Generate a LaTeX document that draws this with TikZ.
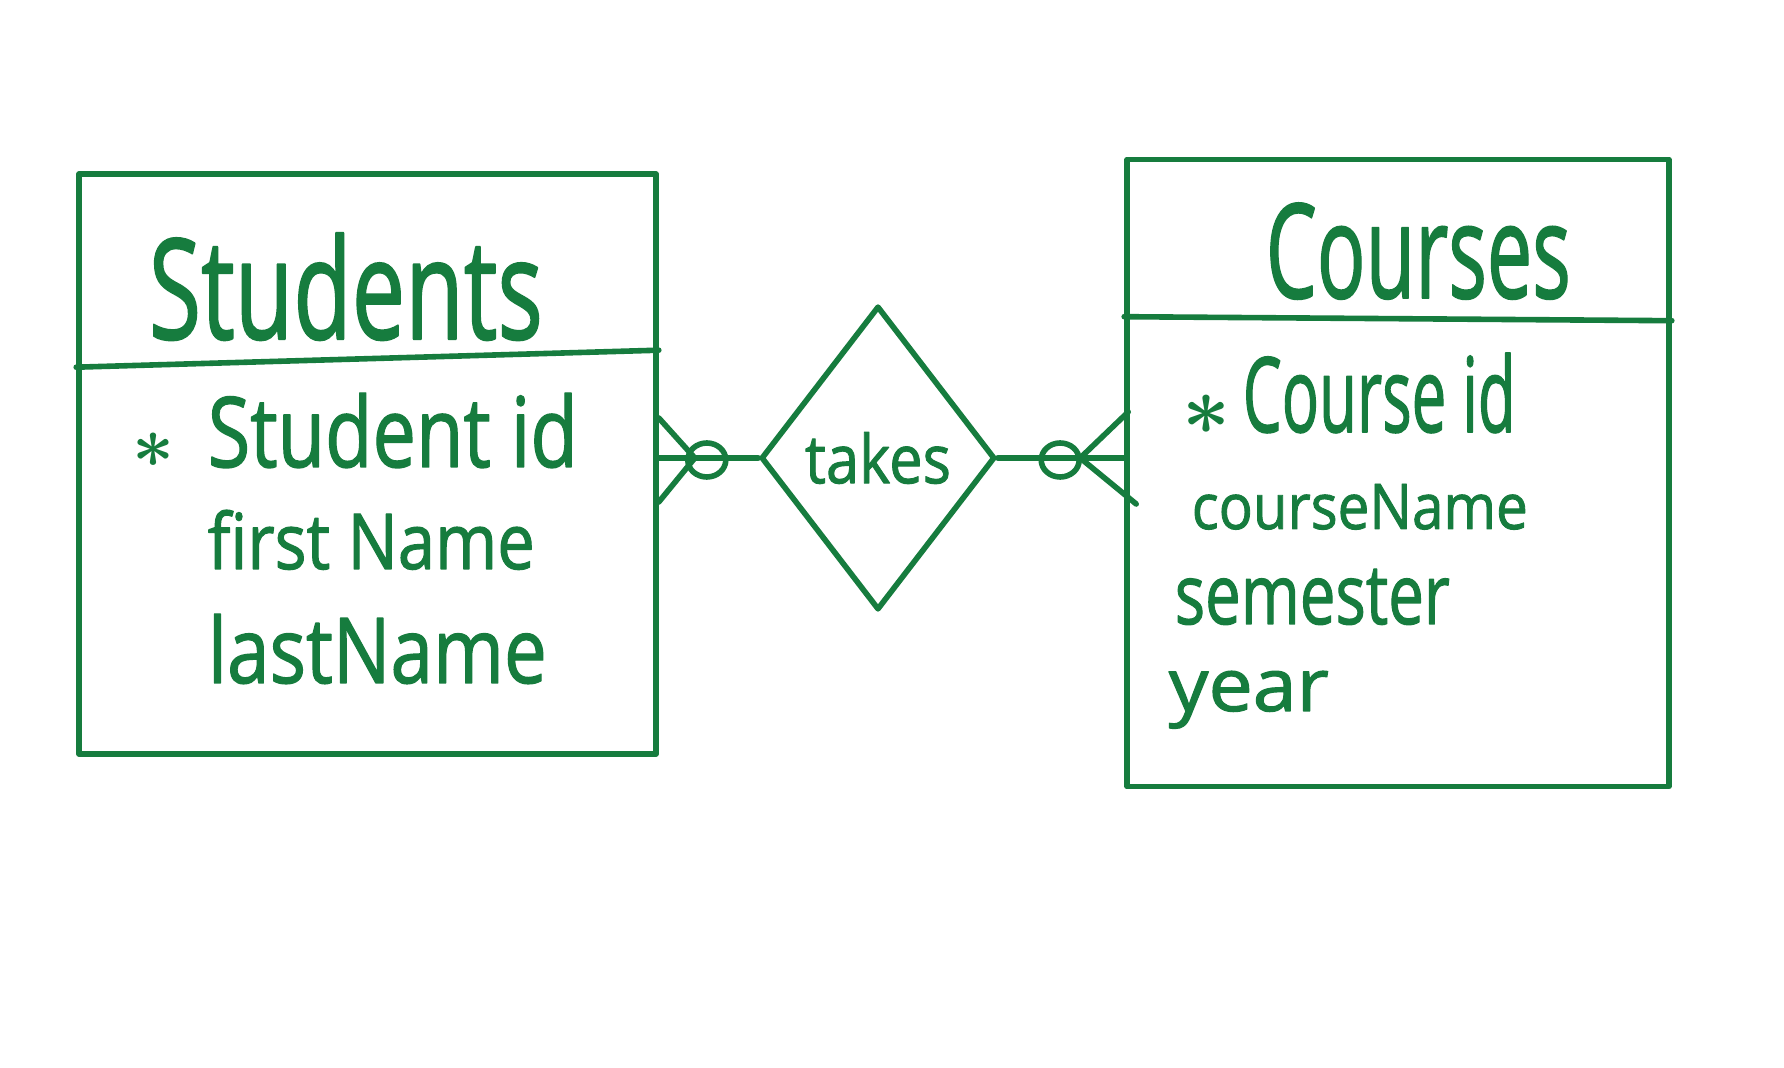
\documentclass[tikz,border=0pt]{standalone}
\usepackage{fontspec}
\usepackage{graphicx}
\setmainfont{Open Sans}
\newfontfamily\handfont{Open Sans}[FakeBold=1.5]
\usetikzlibrary{shapes.geometric,calc}
\definecolor{ink}{RGB}{22,124,62}
\newcommand{\hw}[3]{\resizebox{#1pt}{#2pt}{\handfont #3}}
\tikzset{
  entity/.style={draw=ink, rectangle, inner sep=0pt},
  relation/.style={draw=ink, diamond, inner sep=0pt, text=ink},
  label/.style={inner sep=0pt, anchor=base west, text=ink},
  star/.style={inner sep=0pt, anchor=center, text=ink},
  ring/.style={draw=ink, ellipse, inner sep=0pt, minimum width=19pt, minimum height=17pt},
}
\begin{document}
\begin{tikzpicture}[x=0.5pt, y=-0.5pt, line width=2.8pt, line join=round, line cap=round, draw=ink]
\useasboundingbox[fill=white] (0,0) rectangle (1784,1068);

% entities
\node[entity, minimum width=288.5pt, minimum height=290pt] (stud) at (367.5,464) {};
\node[entity, minimum width=271pt, minimum height=313.5pt] (cour) at (1398,473) {};
\draw ([yshift=-98pt]stud.north west) -- ([yshift=-89.5pt]stud.north east);
\draw ([yshift=-80pt]cour.north west) -- ([yshift=-82pt]cour.north east);

% relationship
\node[relation, minimum width=117pt, minimum height=152pt] (takes) at (878,458) {\hw{73}{25.5}{takes}};

% left connector (many, optional)
\coordinate (sE) at (stud.east |- takes.west);
\draw (takes.west) -- (sE);
\coordinate (sF) at ($(sE)+(36,0)$);
\draw ($(sE)+(0,-40)$) -- (sF) -- ($(sE)+(0,44)$);
\node[ring] (sC) at ($(sE)+(48,2)$) {};

% right connector (many, optional)
\coordinate (cW) at (cour.west |- takes.east);
\draw (takes.east) -- (cW);
\coordinate (cF) at ($(cW)+(-44,0)$);
\draw ($(cW)+(4,-46)$) -- (cF) -- ($(cW)+(12,46)$);
\node[ring] (cC) at ($(cW)+(-64,2)$) {};

% Students texts
\node[label] (tStud) at (146,339) {\hw{197}{53}{Students}};
\node[star] (sStar) at (154,450) {\resizebox{21pt}{!}{\boldmath$\ast$}};
\node[label] (tSid) at (205,467) {\hw{185}{37}{Student id}};
\node[label] (tFirst) at (205,569) {\hw{163.5}{29.5}{first Name}};
\node[label] (tLast) at (205,683) {\hw{169.5}{34.5}{lastName}};

% Courses texts
\node[label] (tCour) at (1263,298) {\hw{152.5}{47.5}{Courses}};
\node[star] (cStar) at (1206,415) {\resizebox{24pt}{!}{\boldmath$\ast$}};
\node[label] (tCid) at (1240,432) {\hw{136.5}{39.5}{Course id}};
\node[label] (tCname) at (1189,529) {\hw{168}{22.5}{courseName}};
\node[label] (tSem) at (1172,624) {\hw{137.5}{27.5}{semester}};
\node[label] (tYear) at (1166,711) {\hw{80}{20}{year}};
\end{tikzpicture}
\end{document}
